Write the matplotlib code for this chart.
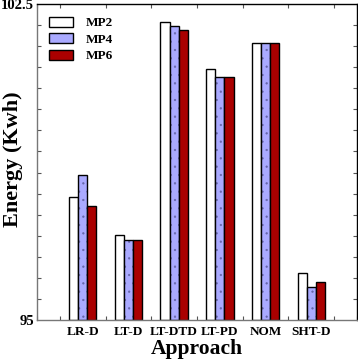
import numpy as np
import matplotlib
matplotlib.use('Agg')
import matplotlib.pyplot as plt
from matplotlib.ticker import MultipleLocator
from matplotlib.patches import Patch

plt.rcParams['font.family'] = 'Liberation Serif'
plt.rcParams['font.weight'] = 'bold'
plt.rcParams['hatch.linewidth'] = 0.4

# Data
approaches = ['LR-D', 'LT-D', 'LT-DTD', 'LT-PD', 'NOM', 'SHT-D']
mp2 = [97.93, 97.01, 102.08, 100.96, 101.57, 96.11]
mp4 = [98.43, 96.91, 101.98, 100.76, 101.57, 95.79]
mp6 = [97.71, 96.91, 101.88, 100.76, 101.57, 95.89]
series = ['MP2', 'MP4', 'MP6']

x = np.arange(len(approaches))
w = 0.2
base = 95

fig = plt.figure(figsize=(3.58, 3.63), dpi=100)
ax = fig.add_axes([0.1034, 0.1185, 0.8936, 0.8705])

ax.bar(x - w, np.array(mp2) - base, w, bottom=base, color='white',
       edgecolor='black', linewidth=1.0)
# dotted fill for MP4, drawn first with a blue-grey hatch, then outlined
ax.bar(x, np.array(mp4) - base, w, bottom=base, color='#aaaaff',
       edgecolor='#6666aa', linewidth=0, hatch='..')
ax.bar(x, np.array(mp4) - base, w, bottom=base, fill=False,
       edgecolor='black', linewidth=1.0)
ax.bar(x + w, np.array(mp6) - base, w, bottom=base, color='#aa0000',
       edgecolor='black', linewidth=1.0)

handles = [Patch(facecolor='white', edgecolor='black', linewidth=1.0),
           Patch(facecolor='#aaaaff', edgecolor='black', linewidth=1.0),
           Patch(facecolor='#aa0000', edgecolor='black', linewidth=1.0)]

ax.set_xlim(-1, 6)
ax.set_ylim(95, 102.5)
ax.set_xticks(x)
ax.set_xticklabels(approaches, fontsize=9.5, fontweight='bold')
ax.set_yticks([95, 102.5])
ax.set_yticklabels(['95', '102.5'], fontsize=10.5, fontweight='bold')
ax.yaxis.set_minor_locator(MultipleLocator(0.5))
ax.xaxis.set_minor_locator(MultipleLocator(0.5))
ax.tick_params(which='both', direction='in', top=True, right=True,
               length=3, width=0.8, color='#555555')
ax.tick_params(axis='x', which='major', length=0, pad=4)
ax.tick_params(axis='y', which='major', length=0, pad=2)

for s in ax.spines.values():
    s.set_linewidth(1.0)
ax.spines['left'].set_color('#777777')
ax.spines['bottom'].set_color('#777777')

ax.set_xlabel('Approach', fontsize=15.5, fontweight='bold', labelpad=1)
ax.set_ylabel('Energy (Kwh)', fontsize=16, fontweight='bold')
ax.yaxis.set_label_coords(-0.045, 0.51)

leg = ax.legend(handles, series, loc='upper left', bbox_to_anchor=(0.012, 0.985),
                frameon=False, fontsize=9.5, handlelength=1.8, handleheight=0.8,
                handletextpad=1.0, labelspacing=0.3, borderaxespad=0.2)
for t in leg.get_texts():
    t.set_fontweight('bold')

fig.savefig('out.png', dpi=100)
